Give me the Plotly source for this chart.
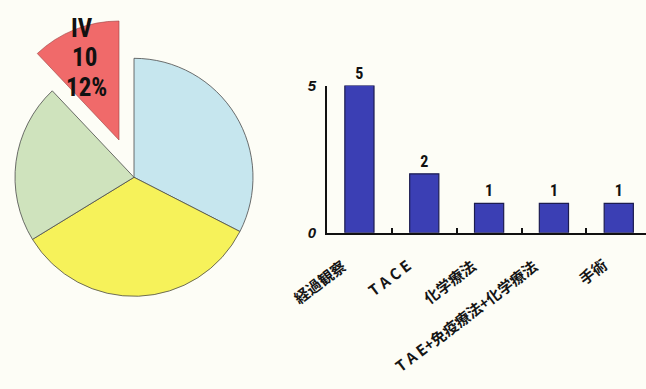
import plotly.graph_objects as go

# Pie: case counts by stage (IV is pulled out and labelled)
stage_names = ["I", "II", "III", "IV"]
stage_counts = [27, 28, 18, 10]
stage_colors = ["#c6e6ee", "#f6f25a", "#cfe3bd", "#f06a6a"]

# Bars: treatments given to stage IV patients
treatments = ["経過観察", "T A C E", "化学療法", "T A E+免疫療法+化学療法", "手術"]
patients = [5, 2, 1, 1, 1]
y_ticks = [0, 5]

W, H = 646, 389
BG = "#fdfdf6"
CLEAR = "rgba(0,0,0,0)"
NARROW = "Roboto Condensed, Noto Sans ExtraCondensed, DejaVu Sans Condensed, sans-serif"


def px_dom(x0, x1):
    return [max(0.0, x0 / W), min(1.0, x1 / W)]


def py_dom(y_top, y_bot):
    return [max(0.0, 1 - y_bot / H), min(1.0, 1 - y_top / H)]


fig = go.Figure()

# both pies get the same domain width (width-limited) so their radii agree
pie_w = 238
tall = 130

# main pie (IV slice left empty)
cx, cy = 134, 176
fig.add_trace(go.Pie(
    labels=stage_names, values=stage_counts, sort=False, direction="clockwise",
    rotation=0, textinfo="none", hoverinfo="skip", showlegend=False,
    marker=dict(colors=stage_colors[:3] + [CLEAR],
                line=dict(color=["#4a4a4a"] * 3 + [CLEAR], width=0.8)),
    domain=dict(x=px_dom(cx - pie_w / 2, cx + pie_w / 2),
                y=py_dom(cy - tall, cy + tall)),
))

# exploded IV slice, drawn from the same values on a shifted domain
ex, ey = pie_w / 2, 137
fig.add_trace(go.Pie(
    labels=stage_names, values=stage_counts, sort=False, direction="clockwise",
    rotation=0, textinfo="none", hoverinfo="skip", showlegend=False,
    marker=dict(colors=[CLEAR] * 3 + [stage_colors[3]],
                line=dict(color=[CLEAR] * 3 + ["#9a4040"], width=0.6)),
    domain=dict(x=px_dom(ex - pie_w / 2, ex + pie_w / 2),
                y=py_dom(ey - tall, ey + tall)),
))

# IV label, one line per annotation for tight control of line spacing
iv_pct = round(100 * stage_counts[3] / sum(stage_counts))
iv_lines = [stage_names[3], str(stage_counts[3]), f"{iv_pct}%"]
for txt, (lx, ly) in zip(iv_lines, [(82, 20), (84, 51), (86, 82)]):
    fig.add_annotation(
        x=lx / W, y=1 - ly / H, xref="paper", yref="paper", text=txt,
        showarrow=False, xanchor="center", yanchor="middle",
        font=dict(family=NARROW, size=25, color="#111111", weight="bold"),
    )

# bar chart
fig.add_trace(go.Bar(
    x=treatments, y=patients, width=0.45,
    marker=dict(color="#3b3fb4", line=dict(color="#1c1c50", width=1.2)),
    text=[str(v) for v in patients], textposition="outside",
    textfont=dict(family=NARROW, size=16, color="#111111", weight="bold"),
    cliponaxis=False, hoverinfo="skip", showlegend=False,
    xaxis="x", yaxis="y",
))

label_dx = [-7, -7, -7, -10, -5]
for i, name in enumerate(treatments):
    fig.add_annotation(
        x=i, y=0, xref="x", yref="y", text=name, textangle=-37,
        showarrow=False, xanchor="right", yanchor="top",
        xshift=label_dx[i], yshift=-19,
        font=dict(family="Noto Sans CJK JP, sans-serif", size=15,
                  color="#151515", weight="bold"),
    )

fig.update_layout(
    width=W, height=H, margin=dict(l=0, r=0, t=0, b=0),
    paper_bgcolor=BG, plot_bgcolor=BG,
    xaxis=dict(domain=[327 / W, 1.0], type="category", range=[-0.5, 4.42],
               showline=True, linecolor="#111111", linewidth=2,
               ticks="inside", tickson="boundaries", ticklen=5, tickwidth=2,
               tickcolor="#111111", showticklabels=False, showgrid=False,
               zeroline=False),
    yaxis=dict(domain=py_dom(80, 234), range=[0, 5],
               showline=True, linecolor="#111111", linewidth=2,
               ticks="inside", ticklen=6, tickwidth=2, tickcolor="#111111",
               tickvals=y_ticks, ticktext=[str(v) for v in y_ticks],
               ticklabelstandoff=6,
               tickfont=dict(family="Liberation Sans, Arial, sans-serif", size=15,
                             color="#111111", weight="bold", style="italic"),
               showgrid=False, zeroline=False),
)

fig.write_html("out.html")
